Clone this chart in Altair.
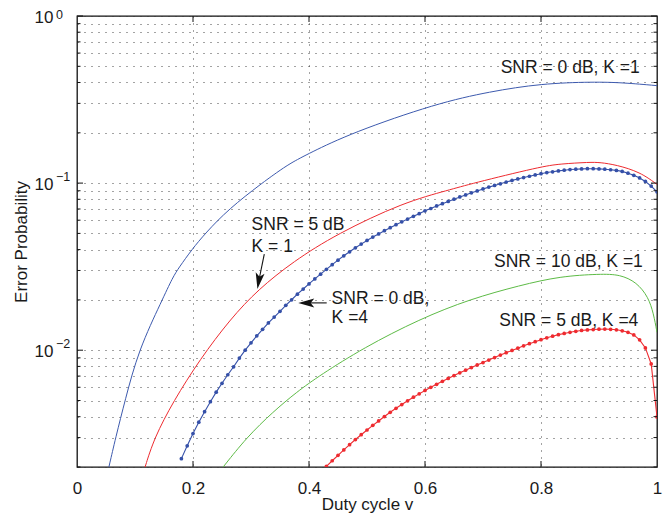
import altair as alt
import pandas as pd

# ---------------- data ----------------
# SNR = 0 dB, K = 1  (blue solid)
x_s0k1 = [0.055, 0.0667, 0.0828, 0.106, 0.147, 0.165, 0.176, 0.198, 0.221, 0.2615, 0.319,
          0.345, 0.367, 0.4005, 0.4736, 0.620, 0.712, 0.800, 0.890, 0.942, 1.000]
p_s0k1 = [0.0020, 0.0030, 0.0050, 0.0100, 0.0200, 0.0273, 0.0313, 0.0400, 0.0500, 0.0700, 0.1000,
          0.116, 0.131, 0.151, 0.200, 0.300, 0.353, 0.394, 0.404, 0.399, 0.383]

# SNR = 5 dB, K = 1  (red solid)
x_s5k1 = [0.1172, 0.1329, 0.1660, 0.2121, 0.2640, 0.3121, 0.3729, 0.4479, 0.5629, 0.643,
          0.678, 0.800, 0.833, 0.884, 0.902, 0.930, 0.971, 1.000]
p_s5k1 = [0.00199, 0.00297, 0.00494, 0.00883, 0.01531, 0.02306, 0.03396, 0.04966, 0.0767, 0.0912,
          0.0989, 0.1256, 0.1303, 0.1334, 0.1330, 0.1285, 0.1164, 0.0982]

# SNR = 10 dB, K = 1 (green solid)
x_s10k1 = [0.252, 0.2926, 0.3384, 0.379, 0.419, 0.494, 0.591, 0.678, 0.764, 0.833,
           0.902, 0.936, 0.965, 0.985, 0.994, 1.000]
p_s10k1 = [0.0020, 0.00301, 0.00429, 0.00563, 0.00708, 0.01033, 0.01538, 0.02023, 0.02445, 0.0277,
           0.0286, 0.0284, 0.0255, 0.0208, 0.0166, 0.0128]

# SNR = 0 dB, K = 4 (blue with markers)
x_s0k4 = [0.18, 0.19, 0.20, 0.21, 0.22, 0.23, 0.24, 0.25, 0.26, 0.27, 0.28, 0.29, 0.30,
          0.31, 0.32, 0.33, 0.34, 0.35, 0.36, 0.37, 0.38, 0.39, 0.40, 0.41, 0.42, 0.43,
          0.44, 0.45, 0.46, 0.47, 0.48, 0.49, 0.50, 0.51, 0.52, 0.53, 0.54, 0.55, 0.56,
          0.57, 0.58, 0.59, 0.60, 0.61, 0.62, 0.63, 0.64, 0.65, 0.66, 0.67, 0.68, 0.69,
          0.70, 0.71, 0.72, 0.73, 0.74, 0.75, 0.76, 0.77, 0.78, 0.79, 0.80, 0.81, 0.82,
          0.83, 0.84, 0.85, 0.86, 0.87, 0.88, 0.89, 0.90, 0.91, 0.92, 0.93, 0.94, 0.95,
          0.96, 0.97, 0.98, 0.99, 1.00]
p_s0k4 = [0.002244, 0.002679, 0.003170, 0.003707, 0.004285, 0.004920, 0.005610, 0.006340,
          0.007130, 0.007960, 0.008970, 0.01000, 0.01107, 0.01219, 0.01334, 0.01455,
          0.01578, 0.01710, 0.01855, 0.02004, 0.02163, 0.02323, 0.02494, 0.02672,
          0.02851, 0.03048, 0.03251, 0.03459, 0.03673, 0.03882, 0.04102, 0.04315,
          0.04539, 0.04753, 0.04966, 0.05188, 0.05408, 0.05636, 0.05861, 0.06095,
          0.06324, 0.06561, 0.06823, 0.07047, 0.07295, 0.07534, 0.07762, 0.08017,
          0.08260, 0.08492, 0.08750, 0.08974, 0.09226, 0.09462, 0.09683, 0.09908,
          0.1014, 0.1038, 0.1059, 0.1079, 0.1099, 0.1119, 0.1138, 0.1156, 0.1169,
          0.1183, 0.1194, 0.1205, 0.1211, 0.1216, 0.1219, 0.1219, 0.1216, 0.1211,
          0.1202, 0.1191, 0.1175, 0.1146, 0.1114, 0.1074, 0.1023, 0.0960, 0.0887]

# SNR = 5 dB, K = 4 (red with markers)
x_s5k4 = [0.43, 0.44, 0.45, 0.46, 0.47, 0.48, 0.49, 0.50, 0.51, 0.52, 0.53, 0.54, 0.55,
          0.56, 0.57, 0.58, 0.59, 0.60, 0.61, 0.62, 0.63, 0.64, 0.65, 0.66, 0.67, 0.68,
          0.69, 0.70, 0.71, 0.72, 0.73, 0.74, 0.75, 0.76, 0.77, 0.78, 0.79, 0.80, 0.81,
          0.82, 0.83, 0.84, 0.85, 0.86, 0.87, 0.88, 0.89, 0.90, 0.91, 0.92, 0.93, 0.94,
          0.95, 0.96, 0.97, 0.98, 0.99, 1.00]
p_s5k4 = [0.00202, 0.00218, 0.00235, 0.00253, 0.00272, 0.00292, 0.00312, 0.00333, 0.00355,
          0.00377, 0.00401, 0.00425, 0.00449, 0.00473, 0.00498, 0.00523, 0.00548, 0.00574,
          0.00600, 0.00625, 0.00651, 0.00678, 0.00705, 0.00732, 0.00759, 0.00787, 0.00816,
          0.00844, 0.00873, 0.00903, 0.00935, 0.00966, 0.00997, 0.01028, 0.01062, 0.01094,
          0.01125, 0.01156, 0.01186, 0.01213, 0.01239, 0.01260, 0.01280, 0.01297, 0.01312,
          0.01323, 0.01330, 0.01336, 0.01337, 0.01334, 0.01325, 0.01306, 0.01280, 0.01234,
          0.01153, 0.01032, 0.00827, 0.00399]

series_names = ["SNR0_K1", "SNR5_K1", "SNR10_K1", "SNR0_K4", "SNR5_K4"]
series_colors = ["#3D5AAE", "#EE2B30", "#5DBB46", "#3550A8", "#EE2B30"]

# axis ticks / grid
x_ticks = [0, 0.2, 0.4, 0.6, 0.8, 1]
y_major = [0.01, 0.1, 1]
y_grid = [0.002, 0.003, 0.004, 0.005, 0.006, 0.007, 0.008, 0.009,
          0.01, 0.02, 0.03, 0.04, 0.05, 0.06, 0.07, 0.08, 0.09,
          0.1, 0.2, 0.3, 0.4, 0.5, 0.6, 0.7, 0.8, 0.9, 1]
y_exponents_top = ["0"]
y_exp_pos_top = [1]
y_exponents = ["\u22121", "\u22122"]
y_exp_pos = [0.1, 0.01]

# annotations (data coordinates)
ann_text = ["SNR = 0 dB, K =1", "SNR = 5 dB", "K = 1", "SNR = 0 dB,", "K =4",
            "SNR = 10 dB, K =1", "SNR = 5 dB, K =4"]
ann_x = [0.7305, 0.301, 0.301, 0.439, 0.439, 0.719, 0.728]
ann_p = [0.457, 0.0527, 0.0389, 0.0190, 0.01449, 0.0313, 0.01405]

arrow_x0 = [0.3229, 0.4305]
arrow_p0 = [0.03758, 0.01919]
arrow_x1 = [0.3134, 0.3953]
arrow_p1 = [0.02595, 0.01919]
arrow_angle = [189.7, 270]

# ---------------- frames ----------------
def frame(xs, ps, name):
    return pd.DataFrame({"x": xs, "p": ps, "series": name})

solid = pd.concat([frame(x_s0k1, p_s0k1, "SNR0_K1"),
                   frame(x_s5k1, p_s5k1, "SNR5_K1"),
                   frame(x_s10k1, p_s10k1, "SNR10_K1")])
marked = pd.concat([frame(x_s0k4, p_s0k4, "SNR0_K4"),
                    frame(x_s5k4, p_s5k4, "SNR5_K4")])
ann = pd.DataFrame({"x": ann_x, "p": ann_p, "t": ann_text})
arrows = pd.DataFrame({"x": arrow_x0, "p": arrow_p0, "x2": arrow_x1, "p2": arrow_p1,
                       "ang": arrow_angle})
ymaj = pd.DataFrame({"p": y_major})
yminor = pd.DataFrame({"p": [v for v in y_grid if v not in y_major]})
xt = pd.DataFrame({"x": x_ticks[1:-1]})
yexp = pd.DataFrame({"p": y_exp_pos, "t": y_exponents})
yexp_top = pd.DataFrame({"p": y_exp_pos_top, "t": y_exponents_top})

W, H = 580, 451
FONT = "Liberation Sans"
xscale = alt.Scale(domain=[0, 1], nice=False, zero=False)
yscale = alt.Scale(type="log", domain=[0.002, 1], nice=False)
color = alt.Color("series:N", scale=alt.Scale(domain=series_names, range=series_colors), legend=None)

X_AX = alt.X("x:Q", scale=xscale, title="Duty cycle v", axis=alt.Axis(
    values=x_ticks, format="~g", labelFlush=False, labelOverlap=False,
    labelPadding=26, labelBaseline="alphabetic",
    titleX=W / 2, titleY=42, titleBaseline="alphabetic",
    titleAlign="center", grid=True))
Y_AX = alt.Y("p:Q", scale=yscale, title="Error Probability", axis=alt.Axis(
    values=y_grid, labelOverlap=False,
    labelExpr="indexof([1, 0.1, 0.01], datum.value) >= 0 ? '10' : ''",
    labelPadding=24, labelBaseline="middle", labelAlign="right", labelOffset=1,
    titleX=-51, titleY=H / 2, titleAngle=-90,
    titleBaseline="alphabetic", titleAlign="center", grid=True))

Xn = alt.X("x:Q", scale=xscale)
Yn = alt.Y("p:Q", scale=yscale)

solid_layer = alt.Chart(solid).mark_line(strokeWidth=1, clip=True, interpolate="basis").encode(
    x=X_AX, y=Y_AX, color=color, detail="series:N")
marked_line = alt.Chart(marked).mark_line(strokeWidth=1.1, clip=True).encode(
    x=Xn, y=Yn, color=color, detail="series:N")
marked_pts = alt.Chart(marked).mark_circle(size=14, opacity=1, clip=True).encode(
    x=Xn, y=Yn, color=color)

tick_l_major = alt.Chart(ymaj).mark_rule(color="#111", strokeWidth=1).encode(
    y=Yn, x=alt.value(0), x2=alt.value(6))
tick_l_minor = alt.Chart(yminor).mark_rule(color="#111", strokeWidth=1).encode(
    y=Yn, x=alt.value(0), x2=alt.value(3.5))
tick_r_major = alt.Chart(ymaj).mark_rule(color="#111", strokeWidth=1).encode(
    y=Yn, x=alt.value(W), x2=alt.value(W - 6))
tick_r_minor = alt.Chart(yminor).mark_rule(color="#111", strokeWidth=1).encode(
    y=Yn, x=alt.value(W), x2=alt.value(W - 3.5))
tick_b = alt.Chart(xt).mark_rule(color="#111", strokeWidth=1).encode(
    x=Xn, y=alt.value(H), y2=alt.value(H - 6))
tick_t = alt.Chart(xt).mark_rule(color="#111", strokeWidth=1).encode(
    x=Xn, y=alt.value(0), y2=alt.value(6))

ann_layer = alt.Chart(ann).mark_text(font=FONT, fontSize=17.5, align="left",
                                     baseline="alphabetic", color="#1a1a1a").encode(
    x=Xn, y=Yn, text="t:N")
arrow_lines = alt.Chart(arrows).mark_rule(color="#111", strokeWidth=1.1).encode(
    x=Xn, y=Yn, x2="x2:Q", y2="p2:Q")
arrow_heads = alt.Chart(arrows).mark_point(
    shape="M0,-1L0.56,1L0,0.55L-0.56,1Z", filled=True, color="#111", opacity=1, size=256,
    strokeWidth=0).encode(
    x=alt.X("x2:Q", scale=xscale), y=alt.Y("p2:Q", scale=yscale),
    angle=alt.Angle("ang:Q", scale=None))
exp_layer = alt.Chart(yexp).mark_text(font=FONT, fontSize=12.5, align="left",
                                      baseline="middle", dy=-6.5, color="#1a1a1a").encode(
    x=alt.value(-21), y=Yn, text="t:N")
exp_top_layer = alt.Chart(yexp_top).mark_text(font=FONT, fontSize=12.5, align="left",
                                              baseline="middle", dy=-1, color="#1a1a1a").encode(
    x=alt.value(-21), y=Yn, text="t:N")

chart = alt.layer(
    solid_layer, marked_line, marked_pts,
    tick_l_major, tick_l_minor, tick_r_major, tick_r_minor, tick_b, tick_t,
    arrow_lines, arrow_heads, ann_layer, exp_layer, exp_top_layer
).properties(
    width=W, height=H,
    autosize=alt.AutoSizeParams(type="none"),
    padding={"left": 69, "top": 8, "right": 6, "bottom": 47},
    background="white",
).configure_view(
    stroke="#111", strokeWidth=1.3
).configure_axis(
    domain=False, tickSize=0, ticks=False,
    labelFont=FONT, labelFontSize=17, labelColor="#1a1a1a",
    titleFont=FONT, titleFontSize=17, titleColor="#1a1a1a", titleFontWeight="normal",
    gridColor="#333", gridDash=[1, 6], gridWidth=1, gridOpacity=0.9
)

chart.save("out.html", embed_options={"renderer": "svg", "actions": False})
